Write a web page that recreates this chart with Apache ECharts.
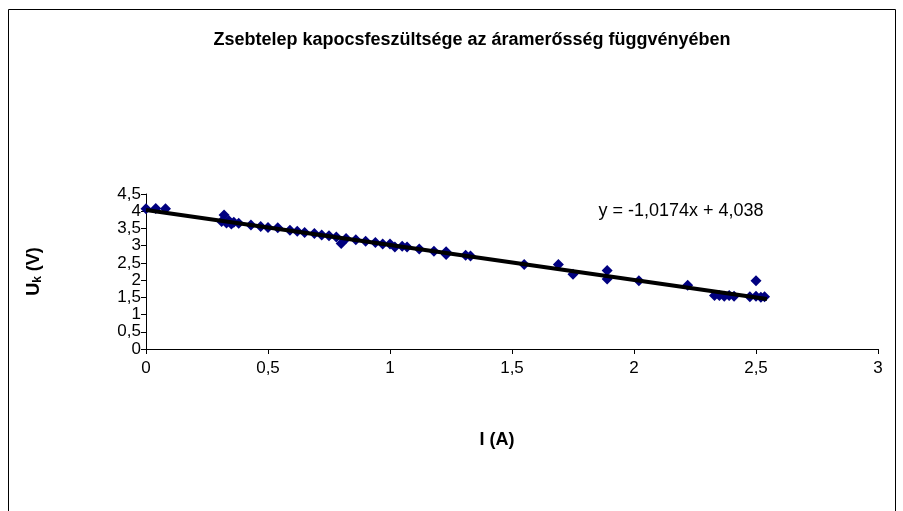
<!DOCTYPE html>
<html>
<head>
<meta charset="utf-8">
<script src="https://cdn.jsdelivr.net/npm/echarts@6/dist/echarts.min.js"></script>
<style>
html,body{margin:0;padding:0;background:#fff;}
#chart{width:903px;height:511px;}
</style>
</head>
<body>
<div id="chart"></div>
<script>
const titleText = 'Zsebtelep kapocsfeszültsége az áramerősség függvényében';
const xName = 'I (A)';
const equationText = 'y = -1,0174x + 4,038';
const xTicks = ['0', '0,5', '1', '1,5', '2', '2,5', '3'];
const yTicks = ['0', '0,5', '1', '1,5', '2', '2,5', '3', '3,5', '4', '4,5'];

const currentA = [0.00, 0.04, 0.08, 0.31, 0.32, 0.33, 0.34, 0.35, 0.36, 0.38,
  0.43, 0.47, 0.50, 0.54, 0.59, 0.62, 0.65, 0.69, 0.72, 0.75,
  0.78, 0.80, 0.82, 0.86, 0.90, 0.94, 0.97, 1.00, 1.02, 1.05,
  1.07, 1.12, 1.18, 1.23, 1.23, 1.31, 1.33, 1.55, 1.69, 1.75,
  1.89, 1.89, 2.02, 2.22, 2.33, 2.35, 2.37, 2.39, 2.41, 2.475,
  2.50, 2.50, 2.52, 2.535];
const voltageV = [4.07, 4.08, 4.07, 3.70, 3.89, 3.66, 3.72, 3.63, 3.68, 3.65,
  3.60, 3.56, 3.53, 3.52, 3.45, 3.42, 3.38, 3.35, 3.31, 3.29,
  3.25, 3.06, 3.21, 3.17, 3.13, 3.09, 3.05, 3.05, 2.96, 2.98,
  2.96, 2.90, 2.84, 2.82, 2.74, 2.72, 2.70, 2.45, 2.45, 2.17,
  2.28, 2.03, 1.98, 1.85, 1.55, 1.55, 1.53, 1.55, 1.53, 1.52,
  1.53, 1.98, 1.50, 1.52];
const trendX = [0, 2.545];
const trendY = [4.038, 1.449];

const font = '"Liberation Sans", Arial, sans-serif';
const chart = echarts.init(document.getElementById('chart'), null, {renderer: 'canvas'});
const fmt = (list, step) => (v) => list[Math.round(v / step)];

chart.setOption({
  animation: false,
  backgroundColor: '#fff',
  grid: {left: 146, right: 25, top: 194, bottom: 162, containLabel: false},
  graphic: [
    {type: 'rect', shape: {x: 8.5, y: 9.5, width: 887, height: 520}, style: {fill: 'none', stroke: '#000', lineWidth: 1}, silent: true},
    {type: 'text', x: 472, y: 40, style: {text: titleText, font: 'bold 18px ' + font, fill: '#000', textAlign: 'center', textVerticalAlign: 'middle'}},
    {type: 'text', x: 681, y: 211, style: {text: equationText, font: '18px ' + font, fill: '#000', textAlign: 'center', textVerticalAlign: 'middle'}},
    {type: 'text', x: 497, y: 440, style: {text: xName, font: 'bold 18px ' + font, fill: '#000', textAlign: 'center', textVerticalAlign: 'middle'}}
  ],
  xAxis: {
    type: 'value', min: 0, max: 3, interval: 0.5,
    axisLine: {onZero: false, lineStyle: {color: '#000', width: 1}},
    axisTick: {show: true, length: 5, lineStyle: {color: '#000'}},
    axisLabel: {formatter: fmt(xTicks, 0.5), fontFamily: font, fontSize: 17, color: '#000', margin: 11},
    splitLine: {show: false}
  },
  yAxis: {
    type: 'value', min: 0, max: 4.5, interval: 0.5,
    name: '{a|U}{b|k}{a| (V)}', nameLocation: 'middle', nameGap: 102, nameRotate: 90,
    nameTextStyle: {
      rich: {
        a: {fontFamily: font, fontSize: 18, fontWeight: 'bold', color: '#000'},
        b: {fontFamily: font, fontSize: 12, fontWeight: 'bold', color: '#000', verticalAlign: 'bottom', padding: [8, 0, 0, 0]}
      }
    },
    axisLine: {show: true, lineStyle: {color: '#000', width: 1}},
    axisTick: {show: true, length: 5, lineStyle: {color: '#000'}},
    axisLabel: {formatter: fmt(yTicks, 0.5), fontFamily: font, fontSize: 17, color: '#000', margin: 5},
    splitLine: {show: false}
  },
  series: [
    {
      type: 'scatter',
      data: currentA.map((x, i) => [x, voltageV[i]]),
      symbol: 'diamond', symbolSize: 11,
      itemStyle: {color: '#000080', opacity: 1},
      z: 2
    },
    {
      type: 'line',
      data: trendX.map((x, i) => [x, trendY[i]]),
      symbol: 'none',
      lineStyle: {color: '#000', width: 4},
      z: 3
    }
  ]
});
</script>
</body>
</html>
